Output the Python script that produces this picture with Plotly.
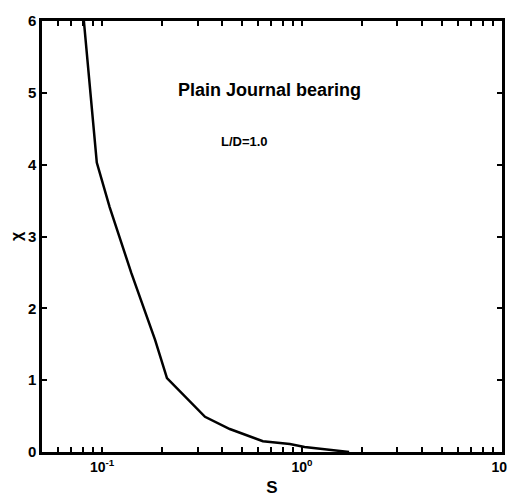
import plotly.graph_objects as go

# Sommerfeld number and attitude parameter for the plain journal bearing, L/D = 1.0
sommerfeld = [0.081, 0.0877, 0.094, 0.109, 0.14, 0.184, 0.211, 0.327, 0.435,
              0.637, 0.869, 1.03, 1.25, 1.72]
chi = [6.0, 5.0, 4.03, 3.41, 2.49, 1.56, 1.03, 0.49, 0.32,
       0.15, 0.11, 0.07, 0.04, 0.0]

# log-axis ticks: labelled decades plus unlabelled intermediate marks
x_decades = {0.1: "10<sup>-1</sup>", 1: "10<sup>0</sup>", 10: "10<sup>1</sup>"}
x_tickvals = [0.06, 0.07, 0.08, 0.09, 0.1, 0.2, 0.3, 0.4, 0.5, 0.6, 0.7, 0.8, 0.9,
              1, 2, 3, 4, 5, 6, 7, 8, 9, 10]
x_ticktext = [x_decades.get(v, "") for v in x_tickvals]
y_tickvals = [0, 1, 2, 3, 4, 5, 6]

font_family = "Liberation Sans, Arial, sans-serif"

fig = go.Figure()
fig.add_trace(go.Scatter(
    x=sommerfeld, y=chi, mode="lines",
    line=dict(color="black", width=2.5),
    showlegend=False,
))

fig.add_annotation(
    x=0.495, y=0.868, xref="paper", yref="paper",
    text="Plain Journal bearing", showarrow=False,
    font=dict(family=font_family, size=18, color="black", weight="bold"),
)
fig.add_annotation(
    x=0.44, y=0.743, xref="paper", yref="paper",
    text="L/D=1.0", showarrow=False,
    font=dict(family=font_family, size=13, color="black", weight="bold"),
)

fig.update_xaxes(
    type="log", range=[-1.301, 1.0005],
    tickvals=x_tickvals, ticktext=x_ticktext, ticklabeloverflow="allow",
    automargin=False,
    ticks="inside", ticklen=5, tickwidth=2, tickcolor="black",
    showline=True, linecolor="black", linewidth=2.5, mirror="ticks",
    showgrid=False, zeroline=False,
    tickfont=dict(family=font_family, size=14, color="black", weight="bold"),
    title=dict(text="S", standoff=8,
               font=dict(family=font_family, size=17, color="black", weight="bold")),
)
fig.update_yaxes(
    range=[0, 6], tickvals=y_tickvals, automargin=False,
    ticks="inside", ticklen=5, tickwidth=2, tickcolor="black",
    showline=True, linecolor="black", linewidth=2.5, mirror="ticks",
    showgrid=False, zeroline=False,
    tickfont=dict(family=font_family, size=15, color="black", weight="bold"),
    title=dict(text="χ", standoff=2,
               font=dict(family=font_family, size=16, color="black", weight="bold")),
)

fig.update_layout(
    width=507, height=502,
    margin=dict(l=42, r=5, t=21, b=50),
    paper_bgcolor="white", plot_bgcolor="white",
)

fig.write_html("out.html")
